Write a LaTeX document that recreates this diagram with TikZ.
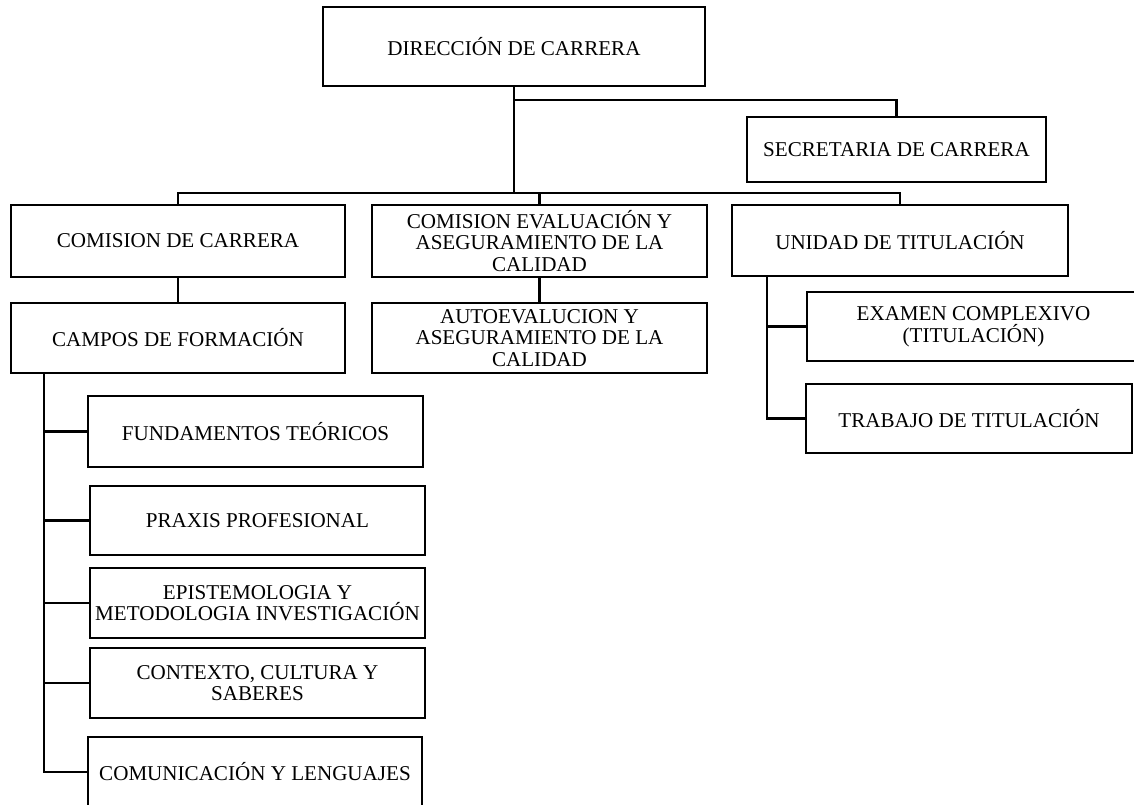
\documentclass[tikz,border=0pt]{standalone}
\usepackage{fontspec}
\setmainfont{Liberation Serif}
\usetikzlibrary{positioning}

\newcommand{\unitfont}{\fontsize{12}{12.3}\selectfont\lineskiplimit=-10pt\relax}
\tikzset{
  unit/.style={draw, line width=1.3pt, align=center, inner sep=1pt,
    font=\unitfont},
  link/.style={line width=1.3pt}
}

\begin{document}
\begin{tikzpicture}[x=0.02cm,y=-0.02cm]
      \clip (0,0) rectangle (1134,805);
      % top level
      \node[unit, minimum width=7.64cm, minimum height=1.58cm] (dir) at (514,46.5) {DIRECCIÓN DE CARRERA};
      \node[unit, minimum width=5.98cm, minimum height=1.30cm] (sec) at (896.5,149.5) {SECRETARIA DE CARRERA};
      % second level
      \node[unit, minimum width=6.68cm, minimum height=1.44cm] (comc) at (178,241) {COMISION DE CARRERA};
      \node[unit, minimum width=6.70cm, minimum height=1.44cm] (eval) at (539.5,241) {COMISION EVALUACIÓN Y\\ASEGURAMIENTO DE LA\\CALIDAD};
      \node[unit, minimum width=6.72cm, minimum height=1.42cm] (uni) at (900,240.5) {UNIDAD DE TITULACIÓN};
      \node[unit, minimum width=6.68cm, minimum height=1.40cm] (campos) at (178,338) {CAMPOS DE FORMACIÓN};
      \node[unit, minimum width=6.70cm, minimum height=1.40cm] (auto) at (539.5,338) {AUTOEVALUCION Y\\ASEGURAMIENTO DE LA\\CALIDAD};
      \node[unit, minimum width=6.66cm, minimum height=1.38cm] (exa) at (973.5,326.5) {EXAMEN COMPLEXIVO\\(TITULACIÓN)};
      \node[unit, minimum width=6.52cm, minimum height=1.38cm] (trab) at (969,418.5) {TRABAJO DE TITULACIÓN};
      % campos de formacion
      \node[unit, minimum width=6.70cm, minimum height=1.42cm] (fund) at (255.5,431.5) {FUNDAMENTOS TEÓRICOS};
      \node[unit, minimum width=6.70cm, minimum height=1.38cm] (prax) at (257.5,520.5) {PRAXIS PROFESIONAL};
      \node[unit, minimum width=6.70cm, minimum height=1.40cm] (epi) at (257.5,603) {EPISTEMOLOGIA Y\\METODOLOGIA INVESTIGACIÓN};
      \node[unit, minimum width=6.70cm, minimum height=1.40cm] (ctx) at (257.5,683) {CONTEXTO, CULTURA Y\\SABERES};
      \node[unit, minimum width=6.68cm, minimum height=1.40cm] (comu) at (255,772) {COMUNICACIÓN Y LENGUAJES};
      % connectors
      \coordinate (bus) at (0,193);
      \coordinate (sbus) at (0,100);
      \coordinate (ltrunk) at (44,0);
      \coordinate (rtrunk) at (767,0);
      \draw[link] (dir.south) -- (dir.south |- bus);
      \draw[link] (dir.south |- sbus) -| (sec.north);
      \draw[link] (comc.north) |- (uni.north |- bus) -- (uni.north);
      \draw[link] (eval.north) -- (eval.north |- bus);
      \draw[link] (comc) -- (campos);
      \draw[link] (eval) -- (auto);
      \draw[link] (campos.south -| ltrunk) |- (comu.west);
      \foreach \n in {fund,prax,epi,ctx}
        \draw[link] (ltrunk |- \n.west) -- (\n.west);
      \draw[link] (uni.south -| rtrunk) |- (trab.west);
      \draw[link] (rtrunk |- exa.west) -- (exa.west);
\end{tikzpicture}
\end{document}
